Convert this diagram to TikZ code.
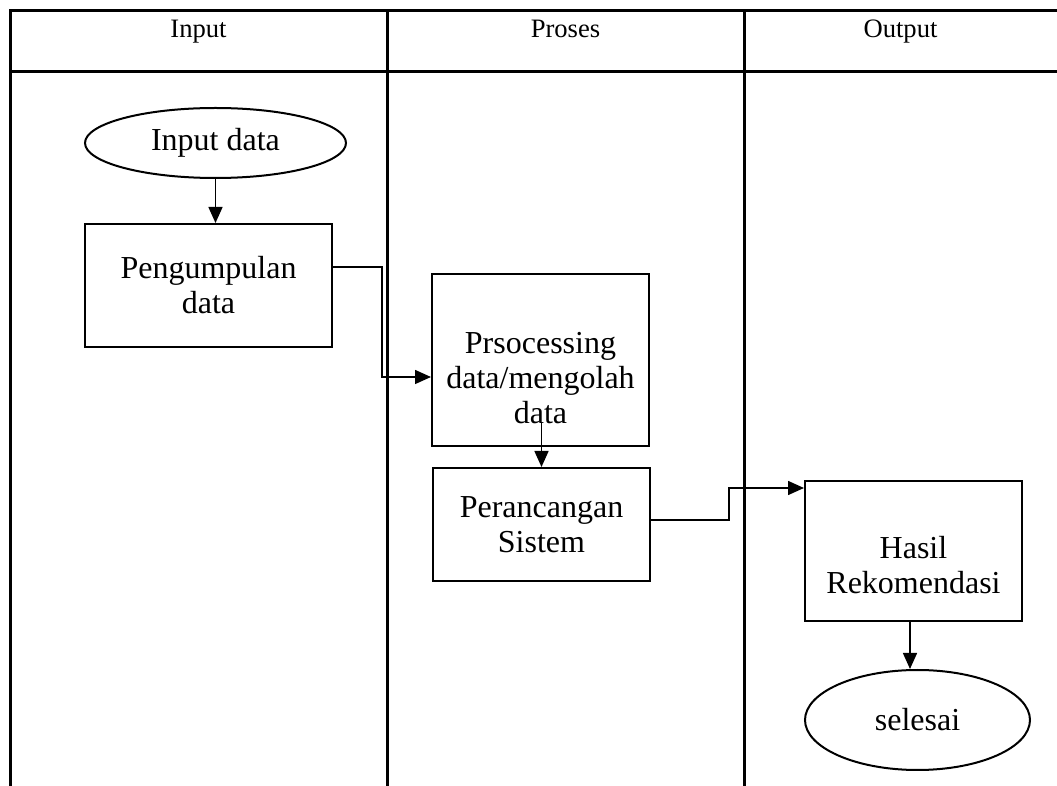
\documentclass[tikz,border=0pt]{standalone}
\usepackage{fontspec}
\setmainfont{Liberation Serif}
\usetikzlibrary{arrows.meta,shapes.geometric}
\newcommand{\bodyfs}{\fontsize{16}{17.5}\selectfont}
\newcommand{\headfs}{\fontsize{13.3}{15}\selectfont}
\tikzset{
  lane/.style={line width=1.5pt},
  box/.style={draw,line width=1pt,align=center,font=\bodyfs,inner sep=0pt},
  oval/.style={draw,ellipse,line width=1pt,font=\bodyfs,inner sep=0pt},
  hd/.style={font=\headfs,anchor=base},
  arr/.style={line width=0.75pt,-{Triangle[length=8pt,width=7pt]}}
}

\begin{document}
\begin{tikzpicture}[x=0.5pt,y=-0.5pt]
\useasboundingbox (0,0) rectangle (1057,786);
% lanes
\draw[lane] (10,786) -- (10,11) -- (1057,11);
\draw[lane] (10,72) -- (1057,72);
\draw[lane] (387,11) -- (387,786);
\draw[lane] (744,11) -- (744,786);
\node[hd] (hin) at (198.5,38) {Input};
\node[hd] (hpr) at (565.5,38) {Proses};
\node[hd] (hout) at (900.5,38) {Output};
% flow
\node[oval,minimum width=130.5pt,minimum height=35pt] (start) at (215.5,143) {Input data};
\node[box,minimum width=123.5pt,minimum height=61.5pt] (kumpul) at (208.5,285.5) {Pengumpulan\\data};
\node[box,minimum width=108.5pt,minimum height=86pt,
  label={[name=olah-t,font=\bodyfs,align=center,yshift=-9pt]center:{Prsocessing\\data/mengolah\\data}}] (olah) at (540.5,360) {};
\node[box,minimum width=108.5pt,minimum height=56.5pt] (rancang) at (541.5,524.5) {Perancangan\\Sistem};
\node[box,minimum width=108.5pt,minimum height=70pt,
  label={[name=hasil-t,font=\bodyfs,align=center,yshift=-7pt]center:{Hasil\\Rekomendasi}}] (hasil) at (913.5,551) {};
\node[oval,minimum width=112.5pt,minimum height=50pt] (end) at (917.5,720) {selesai};
\draw[arr] (start.south) -- (start.south |- kumpul.north);
\draw[arr] ([yshift=9.25pt]kumpul.east) -- ++(49,0) |- ([yshift=-8.5pt]olah.west);
\draw[arr] (rancang.north |- 0,423) -- (rancang.north);
\draw[arr] ([yshift=2.25pt]rancang.east) -- ++(78,0) |- ([yshift=31.5pt]hasil.west);
\draw[arr] ([xshift=-1.75pt]hasil.south) -- ([xshift=-1.75pt]hasil.south |- end.north);
\end{tikzpicture}
\end{document}
